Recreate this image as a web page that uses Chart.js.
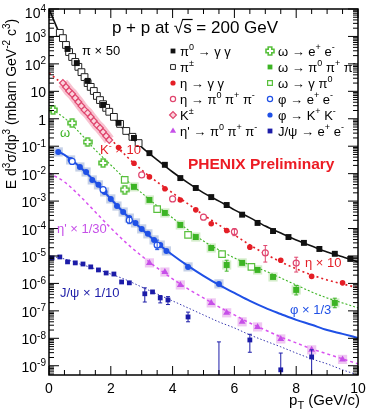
<!DOCTYPE html>
<html>
<head>
<meta charset="utf-8">
<title>p+p at 200 GeV spectra</title>
<script src="https://cdn.jsdelivr.net/npm/chart.js@4.4.1/dist/chart.umd.min.js"></script>
<style>
  html, body { margin: 0; padding: 0; background: #fff; }
  canvas { display: block; }
</style>
</head>
<body>
<canvas id="spectra" width="373" height="418"></canvas>
<script>
const FONT = '"Liberation Sans", Arial, sans-serif';

// pT grid of the fit curves
const fitPt = [0, 0.5, 1, 1.5, 2, 2.5, 3, 3.5, 4, 4.5, 5, 5.5, 6, 6.5, 7, 7.5, 8, 8.5, 9, 9.5, 10];
const phiFitPt = [0.25, 0.5, 1, 1.5, 2, 2.5, 3, 3.5, 4, 4.5, 5, 5.5, 6, 6.5, 7, 7.5, 8, 8.5, 9, 9.5, 10];

// fits (already scaled as in the plot)
const piFit = [1e4, 520, 60, 8.7, 1.5, 0.33, 0.093, 0.032, 0.0115, 4.6e-3, 2.0e-3, 1.0e-3, 4.8e-4, 2.5e-4, 1.23e-4, 6.9e-5, 3.8e-5, 2.3e-5, 1.4e-5, 9.3e-6, 6.0e-6];
const etaFit = [46.6, 15.7, 3.77, 0.83, 0.184, 0.0442, 0.0136, 4.99e-3, 1.98e-3, 7.9e-4, 3.13e-4, 1.35e-4, 5.85e-5, 2.53e-5, 1.19e-5, 6.1e-6, 3.4e-6, 2.04e-6, 1.34e-6, 9.6e-7, 6.9e-7];
const omegaFit = [2.47, 1.07, 0.304, 0.073, 0.0207, 5.9e-3, 1.98e-3, 6.7e-4, 2.43e-4, 8.9e-5, 3.5e-5, 1.66e-5, 8.5e-6, 4.7e-6, 2.85e-6, 1.58e-6, 8.8e-7, 4.9e-7, 2.96e-7, 1.95e-7, 1.28e-7];
const phiFit = [0.0671, 0.048, 0.0175, 4.99e-3, 1.2e-3, 3.13e-4, 9.7e-5, 2.99e-5, 1.09e-5, 4.34e-6, 1.88e-6, 8.8e-7, 4.5e-7, 2.3e-7, 1.28e-7, 7.7e-8, 4.7e-8, 3.1e-8, 2.0e-8, 1.45e-8, 1.03e-8];
const etapFit = [0.0106, 4.99e-3, 1.54e-3, 4.0e-4, 1.05e-4, 2.99e-5, 1.0e-5, 3.67e-6, 1.46e-6, 6.3e-7, 2.96e-7, 1.39e-7, 7.1e-8, 3.6e-8, 2.0e-8, 1.12e-8, 6.8e-9, 4.1e-9, 2.7e-9, 1.78e-9, 1.17e-9];
const jpsiFit = [1.0e-5, 7.8e-6, 5.1e-6, 3.4e-6, 2.2e-6, 1.34e-6, 7.4e-7, 4.1e-7, 2.3e-7, 1.28e-7, 7.1e-8, 3.95e-8, 2.39e-8, 1.33e-8, 8.0e-9, 4.9e-9, 2.9e-9, 1.78e-9, 1.17e-9, 7.1e-10, 4.6e-10];

// pi0 -> gamma gamma, pi+-  (x 50)
const pi0Pt = [0.6, 0.9, 1.25, 1.75, 2.25, 2.75, 3.25, 3.75, 4.25, 4.75, 5.25, 5.75, 6.25, 6.75, 7.25, 7.75, 8.25, 8.75, 9.25, 9.75];
const pi0Y = [350, 107, 24, 3.2, 0.71, 0.20, 0.056, 0.021, 6.9e-3, 3.0e-3, 1.4e-3, 7.2e-4, 3.2e-4, 1.6e-4, 8.1e-5, 4.9e-5, 3.0e-5, 1.8e-5, 1.2e-5, 7.8e-6];
const pipmPt = [0.35, 0.45, 0.55, 0.65, 0.75, 0.85, 0.95, 1.05, 1.15, 1.25, 1.35, 1.45, 1.55, 1.65, 1.75, 1.85, 1.95, 2.1, 2.3, 2.5, 2.7, 2.9];
const pipmY = [1350, 870, 490, 270, 178, 118, 78, 50, 33, 20, 14.5, 10.3, 6.8, 4.8, 3.4, 2.5, 1.8, 1.17, 0.65, 0.36, 0.22, 0.13];

// eta (x 10), K+- (x 10)
const etaGgPt = [2.25, 2.75, 3.25, 3.75, 4.25, 4.75, 5.25, 5.75, 6.5, 7.5, 8.5, 9.5];
const etaGgY = [0.090, 0.024, 7.6e-3, 2.8e-3, 1.1e-3, 4.8e-4, 1.5e-4, 8.5e-5, 2.1e-5, 7.0e-6, 1.8e-6, 1.05e-6];
const eta3piPt = [3.0, 4.0, 5.0, 6.0, 7.0, 8.0];
const eta3piY = [9.0e-3, 1.2e-3, 2.6e-4, 7.6e-5, 1.3e-5, 5.5e-6];
const eta3piLo = [null, null, null, 5.5e-5, 6.0e-6, 2.6e-6];
const eta3piHi = [null, null, null, 1.0e-4, 2.4e-5, 9.0e-6];
const kaonPt = [0.45, 0.55, 0.65, 0.75, 0.85, 0.95, 1.05, 1.15, 1.25, 1.35, 1.45, 1.55, 1.65, 1.75, 1.85, 1.95];
const kaonY = [20.1, 14.4, 10.3, 8.0, 5.7, 4.1, 2.9, 2.1, 1.63, 1.16, 0.83, 0.59, 0.46, 0.33, 0.236, 0.169];

// omega
const omegaEePt = [0.13, 0.75, 1.25, 1.75, 2.45];
const omegaEeY = [2.1, 0.70, 0.143, 0.0245, 2.6e-3];
const omega3piPt = [2.75, 3.25, 3.75, 4.25, 4.75, 5.25, 5.75, 6.25, 6.75, 7.25, 8.0, 9.25];
const omega3piY = [3.3e-3, 1.1e-3, 3.7e-4, 1.35e-4, 4.9e-5, 1.96e-5, 4.7e-6, 5.6e-6, 3.1e-6, 1.72e-6, 5.8e-7, 1.95e-7];
const omega3piLo = [null, null, null, null, null, null, 2.8e-6, null, null, null, 3.8e-7, 1.3e-7];
const omega3piHi = [null, null, null, null, null, null, 7.0e-6, null, null, null, 8.5e-7, 2.9e-7];
const omegaGpPt = [2.45, 3.5, 4.5, 5.6, 6.55];
const omegaGpY = [5.9e-3, 5.1e-4, 5.9e-5, 1.17e-5, 4.0e-6];

// phi (x 1/3)
const phiKKPt = [0.3, 0.7, 1.0, 1.2, 1.4, 1.6, 1.8, 2.0, 2.2, 2.4, 2.6, 2.8, 3.0, 3.2, 3.4, 3.6, 3.8, 4.5, 5.5];
const phiKKY = [0.062, 0.0316, 0.0175, 0.0115, 5.9e-3, 3.9e-3, 2.15e-3, 1.2e-3, 6.6e-4, 4.0e-4, 2.4e-4, 1.6e-4, 9.7e-5, 6.4e-5, 3.85e-5, 2.5e-5, 1.53e-5, 4.0e-6, 9.6e-7];
const phiEePt = [0.75, 1.75, 2.6, 3.5];
const phiEeY = [0.028, 2.6e-3, 2.0e-4, 2.5e-5];
const phiEeLo = [null, null, 1.5e-4, 1.7e-5];
const phiEeHi = [null, null, 2.7e-4, 3.8e-5];

// eta' (x 1/30)
const etapPt = [3.25, 3.75, 4.25, 5.25, 5.75, 6.25, 6.75, 7.5, 8.5, 9.5];
const etapY = [5.6e-6, 2.6e-6, 8.8e-7, 1.95e-7, 8.5e-8, 4.0e-8, 2.6e-8, 9.5e-9, 3.8e-9, 1.7e-9];

// J/psi (x 1/10)
const jpsiPt = [0.1, 0.35, 0.6, 0.85, 1.1, 1.35, 1.6, 1.85, 2.1, 2.35, 2.6, 3.1, 3.35, 3.6, 3.85, 4.5, 5.5, 6.5, 7.5, 8.5];
const jpsiY = [8.5e-6, 9.2e-6, 6.1e-6, 5.6e-6, 5.1e-6, 4.0e-6, 3.1e-6, 2.4e-6, 2.2e-6, 1.13e-6, 1.05e-6, 4.2e-7, 4.9e-7, 2.96e-7, 2.5e-7, 6.0e-8, 1e-10, 8.7e-9, 7.1e-10, 2.1e-9];
const jpsiLo = [null, null, null, null, null, null, null, null, null, null, null, 2.1e-7, null, 1.95e-7, 1.7e-7, 4.0e-8, 1e-11, 3.1e-9, 1e-11, 1e-11];
const jpsiHi = [null, null, null, null, null, null, null, null, null, null, null, 6.9e-7, null, 3.6e-7, 3.3e-7, 9.0e-8, 7.4e-9, 1.4e-8, 2.9e-9, 3.8e-9];

const decades = [4, 3, 2, 1, 0, -1, -2, -3, -4, -5, -6, -7, -8, -9];

function pts(xs, ys) {
  return xs.map((x, i) => ({ x: x, y: ys[i] }));
}

function markers(xs, ys, style, r, fill, stroke, bw) {
  return {
    data: pts(xs, ys), pointStyle: style, pointRadius: r,
    backgroundColor: fill, borderColor: stroke, borderWidth: bw
  };
}

function curve(xs, ys, color, width, dash) {
  return {
    data: pts(xs, ys), showLine: true, pointRadius: 0,
    borderColor: color, borderWidth: width, borderDash: dash,
    cubicInterpolationMode: 'monotone', fill: false
  };
}

// hollow plus sign used for omega -> e+e-
function plusMarker(color, s) {
  const c = document.createElement('canvas');
  c.width = c.height = s;
  const g = c.getContext('2d');
  const a = s * 0.32, b = s * 0.68, m = 1;
  g.beginPath();
  g.moveTo(a, m); g.lineTo(b, m); g.lineTo(b, a); g.lineTo(s - m, a); g.lineTo(s - m, b);
  g.lineTo(b, b); g.lineTo(b, s - m); g.lineTo(a, s - m); g.lineTo(a, b); g.lineTo(m, b);
  g.lineTo(m, a); g.lineTo(a, a); g.closePath();
  g.fillStyle = '#fff'; g.fill();
  g.strokeStyle = color; g.lineWidth = 1.6; g.stroke();
  return c;
}

const RED = '#e41e26', PINK = '#e0456e', GREEN = '#3cb424', LGREEN = '#58c03c';
const BLUE = '#1f50e6', MAG = '#c650e8', NAVY = '#1c1ca8';

const pi0Set = markers(pi0Pt, pi0Y, 'rect', 4.2, '#111', '#111', 0);
const pipmSet = markers(pipmPt, pipmY, 'rect', 4.8, '#fff', '#222', 1);
const etaGgSet = markers(etaGgPt, etaGgY, 'circle', 2.8, RED, RED, 0);
const eta3piSet = Object.assign(markers(eta3piPt, eta3piY, 'circle', 3, '#fff', PINK, 1.2), { errLo: eta3piLo, errHi: eta3piHi });
const kaonSet = markers(kaonPt, kaonY, 'rectRot', 3.4, '#fbd3dc', PINK, 1.2);
const etapSet = markers(etapPt, etapY, 'triangle', 4, MAG, MAG, 0);
const omegaEeSet = markers(omegaEePt, omegaEeY, plusMarker(LGREEN, 10), 5, '#fff', LGREEN, 1);
const omega3piSet = Object.assign(markers(omega3piPt, omega3piY, 'rect', 4.2, GREEN, GREEN, 0), { errLo: omega3piLo, errHi: omega3piHi });
const omegaGpSet = markers(omegaGpPt, omegaGpY, 'rect', 4.6, '#fff', LGREEN, 1.2);
const phiEeSet = Object.assign(markers(phiEePt, phiEeY, 'circle', 3, '#fff', BLUE, 1.2), { errLo: phiEeLo, errHi: phiEeHi });
const phiKKSet = markers(phiKKPt, phiKKY, 'circle', 3, BLUE, BLUE, 0);
const jpsiSet = Object.assign(markers(jpsiPt, jpsiY, 'rect', 3.4, NAVY, NAVY, 0), { errLo: jpsiLo, errHi: jpsiHi });

const datasets = [
  pi0Set, pipmSet, etaGgSet, eta3piSet, kaonSet, omegaEeSet, omega3piSet, omegaGpSet,
  phiEeSet, phiKKSet, etapSet, jpsiSet,
  curve(fitPt, piFit, '#111', 1.6, []),
  curve(fitPt, etaFit, RED, 1.6, [2, 3]),
  curve(fitPt, omegaFit, GREEN, 1.1, [2, 2]),
  curve(phiFitPt, phiFit, BLUE, 2, []),
  curve(fitPt, etapFit, '#d850f0', 1.5, [3, 3]),
  curve(fitPt, jpsiFit, '#3a3ab0', 1, [1.5, 2]),
  // systematic boxes / bands underneath
  { data: pts(kaonPt, kaonY), showLine: true, pointRadius: 0, borderColor: 'rgba(240,120,150,0.45)', borderWidth: 11, fill: false },
  markers(phiKKPt, phiKKY, 'rect', 6.5, 'rgba(160,178,215,0.6)', 'rgba(0,0,0,0)', 0),
  markers(etapPt, etapY, 'rect', 6.5, 'rgba(232,176,236,0.7)', 'rgba(0,0,0,0)', 0),
  markers(omega3piPt, omega3piY, 'rect', 6.5, 'rgba(170,220,150,0.5)', 'rgba(0,0,0,0)', 0)
];

const legendRows = [
  [pi0Set, [['π', 0], ['0', 1], [' → γ γ', 0]], omegaEeSet, [['ω → e', 0], ['+', 1], [' e', 0], ['-', 1]]],
  [pipmSet, [['π', 0], ['±', 1]], omega3piSet, [['ω → π', 0], ['0', 1], [' π', 0], ['+', 1], [' π', 0], ['-', 1]]],
  [etaGgSet, [['η → γ γ', 0]], omegaGpSet, [['ω → γ π', 0], ['0', 1]]],
  [eta3piSet, [['η → π', 0], ['0', 1], [' π', 0], ['+', 1], [' π', 0], ['-', 1]], phiEeSet, [['φ → e', 0], ['+', 1], [' e', 0], ['-', 1]]],
  [kaonSet, [['K', 0], ['±', 1]], phiKKSet, [['φ → K', 0], ['+', 1], [' K', 0], ['-', 1]]],
  [etapSet, [["η' → π", 0], ['0', 1], [' π', 0], ['+', 1], [' π', 0], ['-', 1]], jpsiSet, [['J/ψ → e', 0], ['+', 1], [' e', 0], ['-', 1]]]
];

// text with super/subscripts: parts = [[text, 0 | 1 (sup) | -1 (sub)], ...]
function rich(ctx, parts, x, y, align, size, weight) {
  const small = Math.round(size * 0.7);
  const w = weight || 'normal';
  let total = 0;
  parts.forEach(([t, m]) => {
    ctx.font = w + ' ' + (m ? small : size) + 'px ' + FONT;
    total += ctx.measureText(t).width;
  });
  let cx = align === 'right' ? x - total : align === 'center' ? x - total / 2 : x;
  parts.forEach(([t, m]) => {
    ctx.font = w + ' ' + (m ? small : size) + 'px ' + FONT;
    const dy = m === 1 ? -size * 0.4 : m === -1 ? size * 0.28 : 0;
    ctx.fillText(t, cx, y + dy);
    cx += ctx.measureText(t).width;
  });
  return total;
}

const errorBars = {
  id: 'errorBars',
  afterDatasetsDraw(chart) {
    const { ctx, chartArea: a, scales: { x, y } } = chart;
    ctx.save();
    ctx.beginPath();
    ctx.rect(a.left, a.top, a.right - a.left, a.bottom - a.top);
    ctx.clip();
    chart.data.datasets.forEach(ds => {
      if (!ds.errLo) return;
      ctx.strokeStyle = ds.borderColor;
      ctx.lineWidth = 1;
      ds.data.forEach((p, i) => {
        if (ds.errLo[i] == null) return;
        const px = x.getPixelForValue(p.x);
        const y1 = y.getPixelForValue(ds.errLo[i]);
        const y2 = y.getPixelForValue(ds.errHi[i]);
        ctx.beginPath();
        ctx.moveTo(px, y1); ctx.lineTo(px, y2);
        ctx.moveTo(px - 2, y1); ctx.lineTo(px + 2, y1);
        ctx.moveTo(px - 2, y2); ctx.lineTo(px + 2, y2);
        ctx.stroke();
      });
    });
    ctx.restore();
  }
};

const decorations = {
  id: 'decorations',
  afterDraw(chart) {
    const { ctx, chartArea: a, scales: { x, y } } = chart;
    ctx.save();

    // frame + inward ticks
    ctx.strokeStyle = '#000';
    ctx.lineWidth = 1.5;
    ctx.strokeRect(a.left, a.top, a.right - a.left, a.bottom - a.top);
    ctx.lineWidth = 1;
    ctx.beginPath();
    for (let i = 0; i <= 20; i++) {
      const px = x.getPixelForValue(i * 0.5);
      const len = i % 4 === 0 ? 9 : 5;
      ctx.moveTo(px, a.bottom); ctx.lineTo(px, a.bottom - len);
      ctx.moveTo(px, a.top); ctx.lineTo(px, a.top + len);
    }
    for (let e = -10; e <= 4; e++) {
      for (let m = 1; m < 10; m++) {
        const v = m * Math.pow(10, e);
        if (v < y.min || v > y.max * 1.0001) continue;
        const py = y.getPixelForValue(v);
        const len = m === 1 ? 10 : 5;
        ctx.moveTo(a.left, py); ctx.lineTo(a.left + len, py);
        ctx.moveTo(a.right, py); ctx.lineTo(a.right - len, py);
      }
    }
    ctx.stroke();

    // y tick labels
    ctx.fillStyle = '#000';
    ctx.textBaseline = 'alphabetic';
    decades.forEach(e => {
      const py = y.getPixelForValue(Math.pow(10, e)) + (e === 4 ? 9 : 6);
      const parts = e === 0 ? [['1', 0]] : e === 1 ? [['10', 0]] : [['10', 0], [String(e), 1]];
      rich(ctx, parts, a.left - 3, py, 'right', 14);
    });

    // axis titles
    ctx.save();
    ctx.translate(16, 104);
    ctx.rotate(-Math.PI / 2);
    rich(ctx, [['E d', 0], ['3', 1], ['σ/dp', 0], ['3', 1], [' (mbarn GeV', 0], ['-2', 1], [' c', 0], ['3', 1], [')', 0]], 0, 0, 'center', 14);
    ctx.restore();
    rich(ctx, [['p', 0], ['T', -1], [' (GeV/c)', 0]], 360, 405, 'right', 15);

    // plot title with the square root bar
    ctx.font = '17px ' + FONT;
    const t1 = 'p + p at ', t2 = '√', t3 = 's', t4 = ' = 200 GeV';
    const w1 = ctx.measureText(t1).width, w2 = ctx.measureText(t2).width;
    const w3 = ctx.measureText(t3).width, w4 = ctx.measureText(t4).width;
    let tx = 195 - (w1 + w2 + w3 + w4) / 2;
    const ty = 33;
    ctx.fillText(t1, tx, ty); tx += w1;
    ctx.fillText(t2, tx, ty); tx += w2;
    ctx.beginPath();
    ctx.lineWidth = 1.2;
    ctx.moveTo(tx - 1, ty - 13.5); ctx.lineTo(tx + w3 + 1, ty - 13.5);
    ctx.stroke();
    ctx.fillText(t3, tx, ty); tx += w3;
    ctx.fillText(t4, tx, ty);

    // legend
    const rowY = [51, 67, 83, 99, 115, 131];
    const draw = Chart.helpers && Chart.helpers.drawPoint;
    legendRows.forEach((row, i) => {
      [[row[0], row[1], 173, 180], [row[2], row[3], 270, 278]].forEach(([ds, parts, mx, tx2]) => {
        ctx.fillStyle = ds.backgroundColor;
        ctx.strokeStyle = ds.borderColor;
        ctx.lineWidth = ds.borderWidth;
        const small = ds.pointStyle === 'triangle' ? 3.6 : ds.pointStyle === 'circle' ? 2.6 : 3.4;
        const r = typeof ds.pointStyle === 'string' ? small : 4;
        if (draw) draw(ctx, { pointStyle: ds.pointStyle, radius: r, rotation: 0, borderWidth: ds.borderWidth }, mx, rowY[i]);
        ctx.fillStyle = '#000';
        rich(ctx, parts, tx2, rowY[i] + 4.5, 'left', 13);
      });
    });

    // series annotations
    const notes = [
      ['#000', [['π × 50', 0]], 82, 55],
      [RED, [['K', 0], ['-', 1], [' × 10', 0]], 100, 154],
      [GREEN, [['ω', 0]], 60, 137],
      [MAG, [["η' × 1/30", 0]], 57, 233],
      [NAVY, [['J/ψ × 1/10', 0]], 60, 297],
      [BLUE, [['φ × 1/3', 0]], 290, 314],
      [RED, [['η × 10', 0]], 305, 267]
    ];
    notes.forEach(([c, parts, nx, ny]) => {
      ctx.fillStyle = c;
      rich(ctx, parts, nx, ny, 'left', 13);
    });

    ctx.fillStyle = '#ec1c24';
    rich(ctx, [['PHENIX Preliminary', 0]], 188, 169, 'left', 15.5, 'bold');
    ctx.restore();
  }
};

new Chart(document.getElementById('spectra').getContext('2d'), {
  type: 'scatter',
  data: { datasets: datasets },
  options: {
    responsive: false,
    animation: false,
    events: [],
    layout: { padding: { top: 9, right: 15, left: 0, bottom: 0 } },
    plugins: { legend: { display: false }, tooltip: { enabled: false } },
    scales: {
      x: {
        type: 'linear', min: 0, max: 10,
        grid: { display: false, drawTicks: false }, border: { display: false },
        ticks: { stepSize: 2, maxRotation: 0, padding: 6, color: '#000', font: { family: FONT, size: 14 } },
        afterFit: s => { s.height = 43; }
      },
      y: {
        type: 'logarithmic', min: 4.6e-10, max: 1e4,
        grid: { display: false }, border: { display: false },
        ticks: { display: false },
        afterFit: s => { s.width = 49; }
      }
    }
  },
  plugins: [errorBars, decorations]
});
</script>
</body>
</html>
